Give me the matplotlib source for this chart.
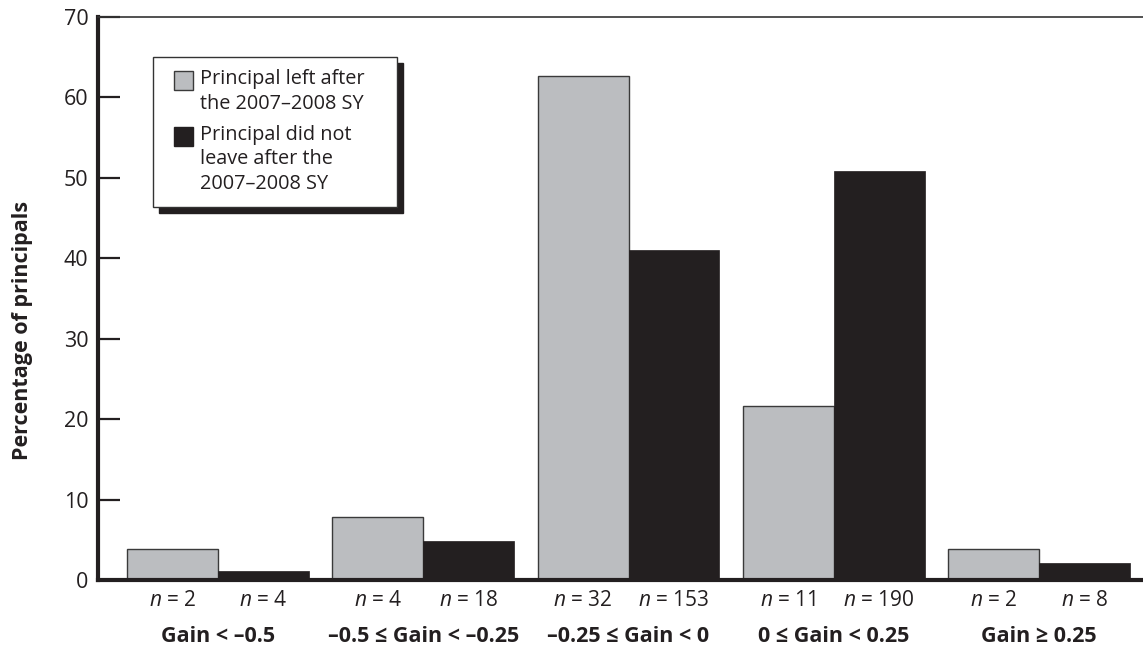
import numpy as np
import matplotlib
matplotlib.use("Agg")
from matplotlib import pyplot as plt
from matplotlib.patches import Rectangle

plt.rcParams['font.family'] = ['Open Sans', 'DejaVu Sans']
plt.rcParams['mathtext.fontset'] = 'custom'
plt.rcParams['mathtext.rm'] = 'Open Sans'
plt.rcParams['mathtext.it'] = 'Open Sans:italic'

# data
categories = ['Gain < \u20130.5', '\u20130.5 \u2264 Gain < \u20130.25', '\u20130.25 \u2264 Gain < 0',
              '0 \u2264 Gain < 0.25', 'Gain \u2265 0.25']
left_pct = [3.9, 7.8, 62.7, 21.6, 3.9]       # principal left
stayed_pct = [1.1, 4.8, 41.0, 50.9, 2.1]     # principal did not leave
left_n = [2, 4, 32, 11, 2]
stayed_n = [4, 18, 153, 190, 8]
y_ticks = [0, 10, 20, 30, 40, 50, 60, 70]

gray = '#BBBDC0'
dark = '#231F20'
txt = '#231F20'

fig = plt.figure(figsize=(11.43, 6.5), dpi=100)
ax = fig.add_axes([98/1143, 70/650, 1045/1143, 563/650])

x = np.arange(len(categories))
w = 0.443
ax.bar(x - w/2, left_pct, w, color=gray, edgecolor='#3a3a3a', linewidth=1.0, zorder=2)
ax.bar(x + w/2, stayed_pct, w, color=dark, edgecolor=dark, linewidth=0.5, zorder=2)

ax.set_xlim(-0.585, 4.507)
ax.set_ylim(0, 70)
ax.set_yticks(y_ticks)
ax.tick_params(axis='y', direction='in', length=16, width=1.6, color=dark,
               labelsize=15.5, labelcolor=txt, pad=7)
ax.set_xticks([])

for s in ['left', 'bottom']:
    ax.spines[s].set_linewidth(3)
    ax.spines[s].set_color(dark)
ax.spines['top'].set_linewidth(1.2)
ax.spines['top'].set_color('#333333')
ax.spines['right'].set_visible(False)

# n labels and category labels under the bars
tr = ax.get_xaxis_transform()
for i in range(len(categories)):
    ax.text(x[i] - w/2, -0.036, '$n$ = %d' % left_n[i], transform=tr,
            ha='center', va='center', fontsize=15, color=txt)
    ax.text(x[i] + w/2, -0.036, '$n$ = %d' % stayed_n[i], transform=tr,
            ha='center', va='center', fontsize=15, color=txt)
    ax.text(x[i], -0.1, categories[i], transform=tr, ha='center', va='center',
            fontsize=15.5, fontweight='bold', color=txt)

fig.text(23/1143, (650-330)/650, 'Percentage of principals', rotation=90,
         ha='center', va='center', fontsize=15.5, fontweight='bold', color=txt)

# legend box with hard shadow
bx, by, bw, bh = 0.0526, 0.6625, 0.2335, 0.2665
ax.add_patch(Rectangle((bx + 0.0057, by - 0.0107), bw, bh, transform=ax.transAxes,
                       facecolor=dark, edgecolor=dark, zorder=5, clip_on=False))
ax.add_patch(Rectangle((bx, by), bw, bh, transform=ax.transAxes,
                       facecolor='white', edgecolor='#333333', linewidth=1.0, zorder=6))
ax.add_patch(Rectangle((0.0727, 0.8703), 0.0182, 0.0337, transform=ax.transAxes,
                       facecolor=gray, edgecolor='#3a3a3a', linewidth=1.0, zorder=7))
ax.add_patch(Rectangle((0.0727, 0.7709), 0.0182, 0.0337, transform=ax.transAxes,
                       facecolor=dark, edgecolor=dark, linewidth=1.0, zorder=7))
ax.text(0.0976, 0.908, 'Principal left after\nthe 2007\u20132008 SY', transform=ax.transAxes,
        ha='left', va='top', fontsize=14.3, color=txt, linespacing=1.32, zorder=8)
ax.text(0.0976, 0.809, 'Principal did not\nleave after the\n2007\u20132008 SY', transform=ax.transAxes,
        ha='left', va='top', fontsize=14.3, color=txt, linespacing=1.32, zorder=8)

fig.savefig('out.png', dpi=100)
